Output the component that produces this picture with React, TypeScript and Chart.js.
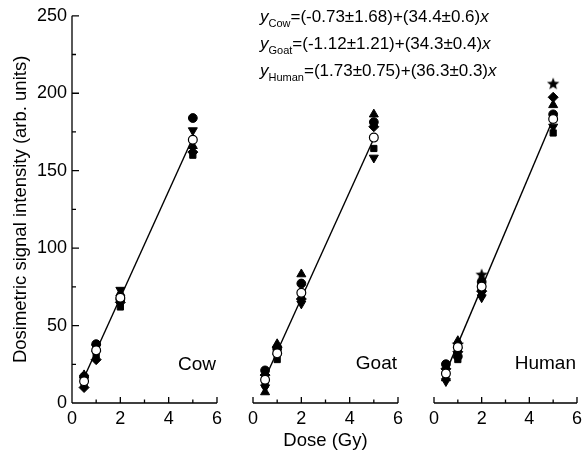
import React, { useEffect, useRef } from 'react';
import { Chart, registerables } from 'chart.js';
Chart.register(...registerables);

// ---------- data ----------
const doses = [0.5, 1, 2, 5];
const fitDoses = [0.5, 5];

const cowFilledCircle = [17, 38, 67, 184];
const cowUpTriangle = [18, 35, 71, 166];
const cowDownTriangle = [16, 36, 73, 176];
const cowDiamond = [10, 28, 65, 162];
const cowSquare = [12, 31, 62, 160];
const cowMean = [14, 34, 68, 170];
const cowFit = [16.5, 171.3];

const goatFilledCircle = [21, 35, 77, 181];
const goatUpTriangle = [7, 38, 83, 186];
const goatDownTriangle = [10, 30, 64, 158];
const goatDiamond = [18, 36, 67, 178];
const goatSquare = [12, 28, 69, 164];
const goatMean = [15, 32, 71, 171];
const goatFit = [16.0, 170.4];

const humanFilledCircle = [25, 30, 78, 186];
const humanUpTriangle = [16, 40, 74, 192];
const humanDownTriangle = [14, 34, 68, 178];
const humanDiamond = [22, 33, 72, 197];
const humanSquare = [18, 28, 70, 174];
const humanStar = [null, 38, 83, 206];
const humanMean = [19, 36, 75, 183];
const humanFit = [19.9, 183.2];

const panelNames = ['Cow', 'Goat', 'Human'];
const xTicks = [0, 2, 4, 6];
const yTicks = [0, 50, 100, 150, 200, 250];
const xTitle = 'Dose (Gy)';
const yTitle = 'Dosimetric signal intensity (arb. units)';

const equations = [
  { sub: 'Cow', rest: '=(-0.73±1.68)+(34.4±0.6)' },
  { sub: 'Goat', rest: '=(-1.12±1.21)+(34.3±0.4)' },
  { sub: 'Human', rest: '=(1.73±0.75)+(36.3±0.3)' },
];

const FONT = '"Liberation Sans", Arial, Helvetica, sans-serif';

type Series = { values: (number | null)[]; style: any; rotation?: number; open?: boolean };

function makeStar(): HTMLCanvasElement {
  const c = document.createElement('canvas');
  c.width = 14;
  c.height = 14;
  const ctx = c.getContext('2d')!;
  ctx.fillStyle = '#000';
  ctx.beginPath();
  for (let i = 0; i < 10; i++) {
    const r = i % 2 === 0 ? 6.5 : 2.8;
    const a = -Math.PI / 2 + (i * Math.PI) / 5;
    const px = 7 + r * Math.cos(a);
    const py = 7.8 + r * Math.sin(a);
    if (i === 0) ctx.moveTo(px, py);
    else ctx.lineTo(px, py);
  }
  ctx.closePath();
  ctx.fill();
  return c;
}

function buildSeries(p: number, star: HTMLCanvasElement): Series[] {
  if (p === 0)
    return [
      { values: cowSquare, style: 'rect' },
      { values: cowDiamond, style: 'rectRot' },
      { values: cowDownTriangle, style: 'triangle', rotation: 180 },
      { values: cowUpTriangle, style: 'triangle' },
      { values: cowFilledCircle, style: 'circle' },
      { values: cowMean, style: 'circle', open: true },
    ];
  if (p === 1)
    return [
      { values: goatSquare, style: 'rect' },
      { values: goatDiamond, style: 'rectRot' },
      { values: goatDownTriangle, style: 'triangle', rotation: 180 },
      { values: goatUpTriangle, style: 'triangle' },
      { values: goatFilledCircle, style: 'circle' },
      { values: goatMean, style: 'circle', open: true },
    ];
  return [
    { values: humanSquare, style: 'rect' },
    { values: humanDiamond, style: 'rectRot' },
    { values: humanDownTriangle, style: 'triangle', rotation: 180 },
    { values: humanUpTriangle, style: 'triangle' },
    { values: humanFilledCircle, style: 'circle' },
    { values: humanStar, style: star },
    { values: humanMean, style: 'circle', open: true },
  ];
}

const fits = [cowFit, goatFit, humanFit];

const layouts = [
  { left: 0, width: 227, padL: 0, padR: 8, showY: true, showXTitle: false },
  { left: 243, width: 165, padL: 10, padR: 8, showY: false, showXTitle: true },
  { left: 424, width: 163, padL: 10, padR: 5, showY: false, showXTitle: false },
];

const H = 452;

function makePlugin(p: number) {
  return {
    id: 'axesAndLabel' + p,
    beforeDatasetsDraw(chart: any) {
      const { ctx, chartArea, scales } = chart;
      const xs = scales.x;
      const ys = scales.y;
      ctx.save();
      ctx.strokeStyle = '#000';
      ctx.lineWidth = 1.3;
      ctx.beginPath();
      ctx.moveTo(chartArea.left, chartArea.bottom);
      ctx.lineTo(chartArea.right, chartArea.bottom);
      for (let v = 0; v <= 6; v++) {
        const px = xs.getPixelForValue(v);
        const len = v % 2 === 0 ? 6 : 3.5;
        ctx.moveTo(px, chartArea.bottom);
        ctx.lineTo(px, chartArea.bottom - len);
      }
      if (layouts[p].showY) {
        ctx.moveTo(chartArea.left, chartArea.bottom);
        ctx.lineTo(chartArea.left, chartArea.top);
        for (let v = 0; v <= 250; v += 25) {
          const py = ys.getPixelForValue(v);
          const len = v % 50 === 0 ? 7 : 4;
          ctx.moveTo(chartArea.left, py);
          ctx.lineTo(chartArea.left + len, py);
        }
      }
      ctx.stroke();
      ctx.fillStyle = '#000';
      ctx.font = '19px ' + FONT;
      ctx.textAlign = 'right';
      ctx.textBaseline = 'middle';
      ctx.fillText(panelNames[p], chartArea.right - 1, ys.getPixelForValue(25));
      ctx.restore();
    },
  };
}

function Panel({ p }: { p: number }) {
  const ref = useRef<HTMLCanvasElement | null>(null);
  useEffect(() => {
    if (!ref.current) return;
    const star = makeStar();
    const lay = layouts[p];
    const series = buildSeries(p, star);
    const datasets: any[] = [
      {
        data: fitDoses.map((d, i) => ({ x: d, y: fits[p][i] })),
        showLine: true,
        borderColor: '#000',
        borderWidth: 1.4,
        pointRadius: 0,
        order: 20,
      },
    ];
    series.forEach((s, k) => {
      const pts = doses
        .map((d, i) => (s.values[i] == null ? null : { x: d, y: s.values[i] as number }))
        .filter((v) => v !== null);
      datasets.push({
        data: pts,
        pointStyle: s.style,
        rotation: s.rotation || 0,
        pointRadius: s.style === 'triangle' ? 5.2 : s.style === 'rectRot' ? 5 : 4.4,
        backgroundColor: s.open ? '#fff' : '#000',
        borderColor: '#000',
        borderWidth: s.open ? 1.2 : 1,
        order: s.open ? 0 : 10 - k,
      });
    });
    const tickFont = { family: FONT, size: 18 };
    const chart = new Chart(ref.current, {
      type: 'scatter',
      data: { datasets },
      plugins: [makePlugin(p)],
      options: {
        animation: false,
        responsive: false,
        devicePixelRatio: 1,
        events: [],
        layout: { padding: { left: lay.padL, right: lay.padR, top: 15, bottom: 0 } },
        plugins: { legend: { display: false }, tooltip: { enabled: false } },
        scales: {
          x: {
            type: 'linear',
            min: 0,
            max: 6,
            afterBuildTicks: (s: any) => {
              s.ticks = xTicks.map((v) => ({ value: v }));
            },
            grid: { display: false, drawTicks: false },
            border: { display: false },
            ticks: { color: '#000', font: tickFont, padding: 5, maxRotation: 0 },
            afterFit: (s: any) => {
              s.height = H - 403;
            },
            title: {
              display: lay.showXTitle,
              text: xTitle,
              color: '#000',
              font: { family: FONT, size: 18.5 },
              padding: { top: 0, bottom: 0 },
            },
          },
          y: {
            type: 'linear',
            min: 0,
            max: 250,
            display: lay.showY,
            afterBuildTicks: (s: any) => {
              s.ticks = yTicks.map((v) => ({ value: v }));
            },
            grid: { display: false, drawTicks: false },
            border: { display: false },
            ticks: { color: '#000', font: tickFont, padding: 5 },
            afterFit: (s: any) => {
              s.width = lay.showY ? 72 : 0;
            },
            title: {
              display: lay.showY,
              text: yTitle,
              color: '#000',
              font: { family: FONT, size: 18.5 },
              padding: { top: 10, bottom: 0 },
            },
          },
        },
      } as any,
    });
    return () => chart.destroy();
  }, [p]);
  const lay = layouts[p];
  return (
    <canvas
      ref={ref}
      width={lay.width}
      height={H}
      style={{ position: 'absolute', left: lay.left, top: 0, width: lay.width, height: H }}
    />
  );
}

export default function App() {
  return (
    <div
      style={{
        position: 'fixed',
        left: 0,
        top: 0,
        width: 587,
        height: 452,
        background: '#fff',
        overflow: 'hidden',
      }}
    >
      {[0, 1, 2].map((p) => (
        <Panel key={p} p={p} />
      ))}
      <div
        style={{
          position: 'absolute',
          left: 260,
          top: 3,
          fontFamily: FONT,
          fontSize: 17,
          color: '#000',
          whiteSpace: 'nowrap',
        }}
      >
        {equations.map((e) => (
          <div key={e.sub} style={{ height: 27, lineHeight: '27px' }}>
            <i>y</i>
            <span style={{ fontSize: 11, position: 'relative', top: 5 }}>{e.sub}</span>
            {e.rest}
            <i>x</i>
          </div>
        ))}
      </div>
    </div>
  );
}
